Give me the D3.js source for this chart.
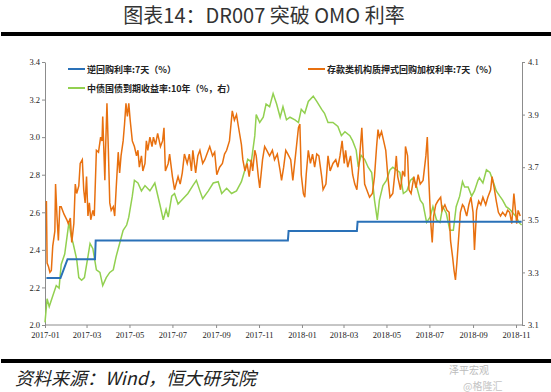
<!DOCTYPE html>
<html>
<head>
<meta charset="utf-8">
<script src="https://cdn.jsdelivr.net/npm/d3@7"></script>
<style>
  body { margin: 0; background: #fff; }
  svg { display: block; }
</style>
</head>
<body>
<svg id="chart" width="551" height="392"></svg>
<script>
// OMO 7-day reverse repo rate (left axis)
var omo = [
  ["2017-01-03", 2.25], ["2017-01-23", 2.25], ["2017-02-02", 2.35], ["2017-03-13", 2.35],
  ["2017-03-14", 2.45], ["2017-12-12", 2.45], ["2017-12-13", 2.50], ["2018-03-20", 2.50],
  ["2018-03-21", 2.55], ["2018-11-09", 2.55]
];

// DR007 weighted repo rate (left axis)
var dr007 = [
  ["2017-01-03",2.66],["2017-01-04",2.33],["2017-01-06",2.31],["2017-01-08",2.28],["2017-01-10",2.29],
  ["2017-01-12",2.42],["2017-01-15",2.50],["2017-01-16",2.75],["2017-01-18",2.58],["2017-01-20",2.45],
  ["2017-01-22",2.63],["2017-01-24",2.63],["2017-01-28",2.59],["2017-02-01",2.56],["2017-02-03",2.54],
  ["2017-02-06",2.57],["2017-02-08",2.44],["2017-02-11",2.54],["2017-02-13",2.75],["2017-02-15",2.70],
  ["2017-02-18",2.74],["2017-02-20",2.86],["2017-02-23",2.88],["2017-02-25",2.72],["2017-02-27",2.65],
  ["2017-03-01",2.79],["2017-03-03",2.58],["2017-03-05",2.65],["2017-03-07",2.56],["2017-03-10",2.61],
  ["2017-03-12",2.58],["2017-03-15",2.93],["2017-03-18",2.92],["2017-03-21",3.00],["2017-03-23",2.98],
  ["2017-03-24",3.11],["2017-03-27",2.77],["2017-03-28",2.93],["2017-03-30",3.18],["2017-04-01",2.93],
  ["2017-04-03",2.65],["2017-04-05",2.61],["2017-04-08",2.63],["2017-04-10",2.58],["2017-04-12",2.72],
  ["2017-04-15",2.92],["2017-04-17",2.81],["2017-04-19",2.90],["2017-04-22",2.98],["2017-04-24",3.07],
  ["2017-04-26",3.18],["2017-04-28",3.11],["2017-04-30",3.18],["2017-05-02",3.09],["2017-05-05",2.98],
  ["2017-05-08",2.95],["2017-05-11",2.90],["2017-05-13",2.93],["2017-05-15",2.84],["2017-05-18",2.90],
  ["2017-05-20",2.82],["2017-05-23",2.86],["2017-05-25",2.98],["2017-05-27",2.93],["2017-05-30",3.00],
  ["2017-06-02",2.95],["2017-06-04",3.00],["2017-06-07",2.96],["2017-06-10",3.02],["2017-06-14",2.95],
  ["2017-06-17",2.98],["2017-06-19",3.05],["2017-06-21",2.82],["2017-06-25",2.86],["2017-06-27",2.91],
  ["2017-07-01",2.79],["2017-07-04",2.72],["2017-07-09",2.79],["2017-07-12",2.75],["2017-07-15",2.81],
  ["2017-07-18",2.91],["2017-07-22",2.86],["2017-07-25",2.91],["2017-07-28",2.82],["2017-07-30",2.93],
  ["2017-08-03",2.81],["2017-08-06",2.90],["2017-08-09",2.93],["2017-08-13",2.86],["2017-08-16",2.88],
  ["2017-08-19",2.91],["2017-08-23",2.95],["2017-08-27",2.90],["2017-08-30",2.92],["2017-09-02",2.80],
  ["2017-09-06",2.84],["2017-09-10",2.86],["2017-09-13",2.91],["2017-09-16",2.93],["2017-09-20",2.98],
  ["2017-09-24",3.14],["2017-09-27",3.09],["2017-09-30",3.12],["2017-10-03",3.05],["2017-10-07",2.96],
  ["2017-10-09",2.88],["2017-10-12",2.82],["2017-10-15",2.86],["2017-10-18",2.79],["2017-10-21",2.88],
  ["2017-10-23",2.82],["2017-10-26",2.93],["2017-10-28",2.90],["2017-10-31",2.79],["2017-11-02",2.73],
  ["2017-11-06",2.88],["2017-11-09",2.95],["2017-11-12",2.93],["2017-11-16",2.90],["2017-11-20",2.93],
  ["2017-11-23",2.88],["2017-11-27",2.91],["2017-12-01",2.82],["2017-12-03",2.77],["2017-12-06",2.84],
  ["2017-12-09",2.93],["2017-12-12",2.91],["2017-12-16",2.88],["2017-12-19",2.77],["2017-12-23",2.91],
  ["2017-12-27",3.05],["2017-12-29",3.07],["2017-12-31",2.80],["2018-01-03",2.70],["2018-01-05",2.68],
  ["2018-01-07",2.80],["2018-01-10",2.93],["2018-01-13",2.86],["2018-01-16",2.91],["2018-01-19",2.84],
  ["2018-01-22",2.91],["2018-01-25",2.90],["2018-01-29",2.79],["2018-01-31",2.72],["2018-02-04",2.75],
  ["2018-02-07",2.90],["2018-02-10",2.82],["2018-02-14",2.86],["2018-02-18",2.88],["2018-02-21",2.84],
  ["2018-02-24",2.90],["2018-02-27",2.98],["2018-03-02",2.86],["2018-03-04",2.93],["2018-03-07",2.84],
  ["2018-03-11",2.90],["2018-03-14",2.80],["2018-03-17",2.75],["2018-03-20",2.72],["2018-03-24",2.90],
  ["2018-03-27",3.05],["2018-03-29",2.90],["2018-03-31",2.75],["2018-04-03",2.72],["2018-04-07",2.68],
  ["2018-04-11",2.70],["2018-04-14",2.79],["2018-04-17",2.95],["2018-04-19",3.04],["2018-04-21",3.00],
  ["2018-04-24",3.03],["2018-04-27",2.98],["2018-04-30",2.93],["2018-05-03",2.79],["2018-05-06",2.68],
  ["2018-05-10",2.70],["2018-05-13",2.81],["2018-05-15",2.90],["2018-05-17",2.79],["2018-05-21",2.72],
  ["2018-05-24",2.82],["2018-05-27",2.79],["2018-05-28",2.95],["2018-05-31",2.90],["2018-06-02",2.72],
  ["2018-06-05",2.70],["2018-06-09",2.79],["2018-06-12",2.73],["2018-06-15",2.80],["2018-06-18",2.75],
  ["2018-06-22",2.77],["2018-06-26",2.90],["2018-06-28",3.00],["2018-06-30",2.79],["2018-07-03",2.54],
  ["2018-07-05",2.44],["2018-07-07",2.58],["2018-07-10",2.64],["2018-07-13",2.66],["2018-07-17",2.68],
  ["2018-07-19",2.61],["2018-07-23",2.64],["2018-07-26",2.61],["2018-07-29",2.60],["2018-07-31",2.45],
  ["2018-08-03",2.36],["2018-08-05",2.29],["2018-08-07",2.24],["2018-08-09",2.33],["2018-08-12",2.49],
  ["2018-08-14",2.60],["2018-08-17",2.64],["2018-08-19",2.63],["2018-08-23",2.58],["2018-08-26",2.64],
  ["2018-08-29",2.68],["2018-09-01",2.60],["2018-09-03",2.40],["2018-09-06",2.61],["2018-09-09",2.66],
  ["2018-09-12",2.64],["2018-09-15",2.68],["2018-09-19",2.64],["2018-09-22",2.68],["2018-09-26",2.72],
  ["2018-09-28",2.79],["2018-10-01",2.73],["2018-10-04",2.66],["2018-10-07",2.60],["2018-10-10",2.58],
  ["2018-10-13",2.60],["2018-10-17",2.58],["2018-10-20",2.61],["2018-10-23",2.60],["2018-10-26",2.54],
  ["2018-10-29",2.70],["2018-11-02",2.54],["2018-11-04",2.61],["2018-11-07",2.58]
];

// China government bond 10Y yield (right axis)
var cgb10y = [
  ["2017-01-01",3.11],["2017-01-04",3.20],["2017-01-07",3.17],["2017-01-12",3.21],["2017-01-17",3.25],
  ["2017-01-21",3.24],["2017-01-24",3.33],["2017-01-29",3.37],["2017-02-04",3.49],["2017-02-07",3.44],
  ["2017-02-10",3.41],["2017-02-15",3.35],["2017-02-18",3.28],["2017-02-22",3.27],["2017-02-26",3.28],
  ["2017-03-03",3.36],["2017-03-06",3.41],["2017-03-10",3.39],["2017-03-15",3.31],["2017-03-20",3.30],
  ["2017-03-24",3.25],["2017-03-29",3.28],["2017-04-03",3.30],["2017-04-08",3.31],["2017-04-12",3.36],
  ["2017-04-17",3.41],["2017-04-22",3.46],["2017-04-27",3.48],["2017-04-30",3.51],["2017-05-05",3.59],
  ["2017-05-08",3.65],["2017-05-13",3.64],["2017-05-18",3.61],["2017-05-23",3.63],["2017-05-30",3.61],
  ["2017-06-06",3.64],["2017-06-13",3.56],["2017-06-18",3.50],["2017-06-22",3.54],["2017-06-25",3.51],
  ["2017-06-30",3.59],["2017-07-04",3.60],["2017-07-09",3.56],["2017-07-16",3.58],["2017-07-23",3.60],
  ["2017-07-30",3.63],["2017-08-04",3.65],["2017-08-09",3.61],["2017-08-13",3.58],["2017-08-21",3.61],
  ["2017-08-28",3.64],["2017-09-04",3.645],["2017-09-09",3.60],["2017-09-16",3.62],["2017-09-23",3.60],
  ["2017-09-30",3.61],["2017-10-07",3.645],["2017-10-12",3.69],["2017-10-16",3.73],["2017-10-21",3.72],
  ["2017-10-26",3.82],["2017-10-28",3.90],["2017-11-02",3.87],["2017-11-07",3.89],["2017-11-11",3.94],
  ["2017-11-16",3.93],["2017-11-21",3.98],["2017-11-26",3.94],["2017-12-01",3.89],["2017-12-05",3.93],
  ["2017-12-10",3.88],["2017-12-15",3.89],["2017-12-22",3.88],["2017-12-27",3.87],["2017-12-31",3.92],
  ["2018-01-05",3.905],["2018-01-10",3.95],["2018-01-17",3.97],["2018-01-22",3.95],["2018-01-29",3.92],
  ["2018-02-02",3.905],["2018-02-07",3.87],["2018-02-14",3.87],["2018-02-21",3.855],["2018-02-26",3.82],
  ["2018-03-03",3.835],["2018-03-10",3.82],["2018-03-14",3.80],["2018-03-19",3.765],["2018-03-22",3.70],
  ["2018-03-26",3.745],["2018-03-31",3.73],["2018-04-05",3.70],["2018-04-10",3.68],["2018-04-14",3.575],
  ["2018-04-18",3.50],["2018-04-21",3.575],["2018-04-26",3.63],["2018-05-01",3.65],["2018-05-06",3.69],
  ["2018-05-10",3.70],["2018-05-15",3.69],["2018-05-20",3.68],["2018-05-25",3.60],["2018-05-30",3.61],
  ["2018-06-04",3.65],["2018-06-08",3.66],["2018-06-13",3.625],["2018-06-18",3.575],["2018-06-22",3.56],
  ["2018-06-27",3.49],["2018-07-02",3.51],["2018-07-06",3.55],["2018-07-11",3.50],["2018-07-16",3.49],
  ["2018-07-20",3.55],["2018-07-25",3.525],["2018-07-30",3.46],["2018-08-04",3.46],["2018-08-08",3.55],
  ["2018-08-13",3.59],["2018-08-17",3.645],["2018-08-20",3.625],["2018-08-25",3.625],["2018-08-30",3.59],
  ["2018-09-03",3.61],["2018-09-08",3.65],["2018-09-10",3.66],["2018-09-15",3.64],["2018-09-20",3.69],
  ["2018-09-25",3.68],["2018-09-29",3.65],["2018-10-04",3.61],["2018-10-09",3.59],["2018-10-13",3.575],
  ["2018-10-18",3.55],["2018-10-23",3.54],["2018-10-28",3.525],["2018-11-02",3.51],["2018-11-05",3.49],
  ["2018-11-09",3.48]
];

var leftTicks = [2.0, 2.2, 2.4, 2.6, 2.8, 3.0, 3.2, 3.4];
var rightTicks = [3.1, 3.3, 3.5, 3.7, 3.9, 4.1];

var titleText = "图表14：DR007 突破 OMO 利率";
var sourceText = "资料来源：Wind，恒大研究院";
var legendOmo = "逆回购利率:7天（%）";
var legendCgb = "中债国债到期收益率:10年（%，右）";
var legendDr = "存款类机构质押式回购加权利率:7天（%）";

var BLUE = "#2a71b8", ORANGE = "#e8700f", GREEN = "#92d050";

var parse = d3.timeParse("%Y-%m-%d");
function prep(arr) { return arr.map(function (d) { return { date: parse(d[0]), value: d[1] }; }); }

var svg = d3.select("#chart");

// plot box
var plotL = 45, plotR = 522, plotT = 62, plotB = 325;

var x = d3.scaleTime()
    .domain([parse("2017-01-01"), parse("2018-11-01")])
    .range([plotL, 516]);
var yL = d3.scaleLinear().domain([2.0, 3.4]).range([plotB, plotT]);
var yR = d3.scaleLinear().domain([3.1, 4.1]).range([plotB, plotT]);

// title and rules
svg.append("text")
    .attr("x", 264).attr("y", 23)
    .attr("text-anchor", "middle")
    .style("font-family", "'Noto Sans CJK SC', sans-serif")
    .style("font-size", "20px")
    .style("fill", "#333")
    .text(titleText);

svg.append("rect").attr("x", 1).attr("y", 32).attr("width", 550).attr("height", 4).attr("fill", "#000");
svg.append("rect").attr("x", 1).attr("y", 359).attr("width", 550).attr("height", 4).attr("fill", "#000");

// axes
var axisFont = "'Liberation Serif', 'Times New Roman', serif";

var gL = svg.append("g").attr("transform", "translate(" + plotL + ",0)")
    .call(d3.axisLeft(yL).tickValues(leftTicks).tickFormat(d3.format(".1f")).tickSize(3).tickSizeOuter(0));
var gR = svg.append("g").attr("transform", "translate(" + plotR + ",0)")
    .call(d3.axisRight(yR).tickValues(rightTicks).tickFormat(d3.format(".1f")).tickSize(3).tickSizeOuter(0));
var gX = svg.append("g").attr("transform", "translate(0," + plotB + ")")
    .call(d3.axisBottom(x).ticks(d3.timeMonth.every(2)).tickFormat(d3.timeFormat("%Y-%m")).tickSize(3).tickSizeOuter(0));

gX.select(".domain").attr("d", "M" + plotL + ",0H" + plotR);

[gL, gR, gX].forEach(function (g) {
    g.select(".domain").attr("stroke", "#8c8c8c");
    g.selectAll(".tick line").attr("stroke", "#8c8c8c");
    g.selectAll(".tick text")
        .style("font-family", axisFont)
        .style("font-size", "8.5px")
        .attr("fill", "#222");
});
gL.selectAll(".tick text").attr("x", -5);
gR.selectAll(".tick text").attr("x", 6);
gX.selectAll(".tick text").attr("y", 7);

// series
var lineL = d3.line().x(function (d) { return x(d.date); }).y(function (d) { return yL(d.value); });
var lineR = d3.line().x(function (d) { return x(d.date); }).y(function (d) { return yR(d.value); });

svg.append("path").datum(prep(cgb10y))
    .attr("d", lineR).attr("fill", "none").attr("stroke", GREEN).attr("stroke-width", 1.5);
svg.append("path").datum(prep(dr007))
    .attr("d", lineL).attr("fill", "none").attr("stroke", ORANGE).attr("stroke-width", 1.5);
svg.append("path").datum(prep(omo))
    .attr("d", lineL).attr("fill", "none").attr("stroke", BLUE).attr("stroke-width", 2);

// legend
var legendItems = [
    { label: legendOmo, color: BLUE, x: 68, y: 69 },
    { label: legendCgb, color: GREEN, x: 68, y: 88 },
    { label: legendDr, color: ORANGE, x: 308, y: 69 }
];
var lg = svg.selectAll("g.legend").data(legendItems).enter().append("g")
    .attr("class", "legend")
    .attr("transform", function (d) { return "translate(" + d.x + "," + d.y + ")"; });
lg.append("line").attr("x1", 0).attr("x2", 17).attr("y1", 0).attr("y2", 0)
    .attr("stroke", function (d) { return d.color; }).attr("stroke-width", 2);
lg.append("text").attr("x", 19).attr("y", 3.5)
    .style("font-family", "'Noto Sans CJK SC', sans-serif")
    .style("font-size", "9px")
    .style("font-weight", "bold")
    .attr("fill", "#222")
    .text(function (d) { return d.label; });

// source note
svg.append("text")
    .attr("x", 15).attr("y", 385)
    .style("font-family", "'Noto Sans CJK SC', sans-serif")
    .style("font-size", "18px")
    .style("font-style", "italic")
    .attr("fill", "#222")
    .text(sourceText);

// watermark
svg.append("text").attr("x", 449).attr("y", 374)
    .style("font-family", "'Noto Sans CJK SC', sans-serif").style("font-size", "10px")
    .attr("fill", "#bbb").text("泽平宏观");
svg.append("text").attr("x", 463).attr("y", 390)
    .style("font-family", "'Noto Sans CJK SC', sans-serif").style("font-size", "10px")
    .attr("fill", "#c4c4c4").text("@格隆汇");
</script>
</body>
</html>
